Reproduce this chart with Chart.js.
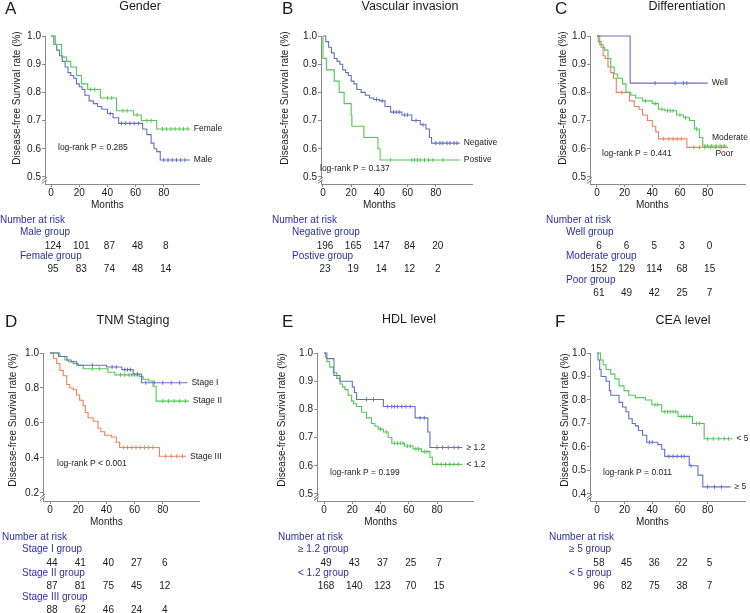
<!DOCTYPE html>
<html>
<head>
<meta charset="utf-8">
<script src="https://cdn.jsdelivr.net/npm/chart.js@4.4.1/dist/chart.umd.min.js"></script>
<style>
  body { margin: 0; background: #fff; width: 750px; height: 613px; position: relative; overflow: hidden; }
  canvas { position: absolute; }
</style>
</head>
<body>
<canvas id="cA" width="250" height="300" style="left:0;top:0"></canvas>
<canvas id="cB" width="250" height="300" style="left:250px;top:0"></canvas>
<canvas id="cC" width="250" height="300" style="left:500px;top:0"></canvas>
<canvas id="cD" width="250" height="313" style="left:0;top:300px"></canvas>
<canvas id="cE" width="250" height="313" style="left:250px;top:300px"></canvas>
<canvas id="cF" width="250" height="313" style="left:500px;top:300px"></canvas>
<script>
// ---- data (months, survival) ----
var riskTimes = [0, 20, 40, 60, 80];
var xTickValues = [0, 20, 40, 60, 80];
var yTicksHalf = [0.5, 0.6, 0.7, 0.8, 0.9, 1.0];
var yTicksStage = [0.2, 0.4, 0.6, 0.8, 1.0];
var yTicksCea = [0.4, 0.5, 0.6, 0.7, 0.8, 0.9, 1.0];

// A gender
var femaleT = [0, 3, 7.5, 11, 14, 18, 21.5, 26, 35, 46.5, 58.5, 64, 75, 98.5];
var femaleS = [1, 0.97, 0.925, 0.91, 0.89, 0.86, 0.83, 0.81, 0.78, 0.735, 0.72, 0.70, 0.67, 0.67];
var femaleCens = [28, 31, 40, 43, 51, 54, 61, 68, 71, 79, 82, 85, 88, 91, 94, 97];
var maleT = [0, 2, 4, 6, 8, 10, 12, 14, 16, 18, 20, 22, 24, 27, 30, 33, 36, 40, 44, 48, 65, 68, 71, 73, 75, 77.5, 98.5];
var maleS = [1, 0.97, 0.95, 0.93, 0.91, 0.89, 0.87, 0.86, 0.85, 0.83, 0.82, 0.81, 0.79, 0.77, 0.76, 0.75, 0.74, 0.725, 0.71, 0.69, 0.67, 0.65, 0.62, 0.60, 0.59, 0.56, 0.56];
var maleCens = [42, 50, 53, 56, 59, 62, 80, 83, 86, 89, 92, 95];
var maleRisk = [124, 101, 87, 48, 8];
var femaleRisk = [95, 83, 74, 48, 14];

// B vascular invasion
var negT = [0, 2, 4, 6, 8, 10, 12, 14, 16, 18, 20, 22, 24, 27, 30, 33, 36, 40, 44, 48, 56, 63, 69, 73, 75.5, 77, 97];
var negS = [1, 0.98, 0.96, 0.94, 0.92, 0.91, 0.90, 0.88, 0.87, 0.86, 0.84, 0.83, 0.81, 0.80, 0.79, 0.78, 0.775, 0.77, 0.75, 0.73, 0.72, 0.70, 0.685, 0.67, 0.64, 0.62, 0.62];
var negCens = [38, 42, 50, 52, 54, 58, 60, 66, 71, 80, 83, 85, 88, 90, 93, 95];
var posT = [0, 0, 2.5, 8, 11.5, 15, 20, 20.5, 29, 39, 40.5, 97];
var posS = [1, 0.92, 0.88, 0.84, 0.80, 0.76, 0.72, 0.68, 0.64, 0.60, 0.56, 0.56];
var posCens = [48, 63, 65, 67, 69, 72, 75, 78, 85];
var negRisk = [196, 165, 147, 84, 20];
var posRisk = [23, 19, 14, 12, 2];

// C differentiation
var wellT = [0, 24, 80];
var wellS = [1, 0.833, 0.833];
var wellCens = [42, 56.5, 62.5, 65];
var modT = [0, 1, 3, 5.5, 8, 10, 12.5, 15, 18.5, 21, 24.5, 28, 33, 40, 44.5, 49, 57.5, 62.5, 67, 70.5, 74, 76.5, 94];
var modS = [1, 0.98, 0.96, 0.95, 0.92, 0.89, 0.865, 0.85, 0.83, 0.80, 0.79, 0.78, 0.77, 0.76, 0.74, 0.735, 0.72, 0.71, 0.70, 0.67, 0.64, 0.61, 0.61];
var modCens = [35, 42, 47, 51, 53, 55, 60, 64, 72, 78, 80, 83, 86, 89, 92];
var poorT = [0, 2, 4.5, 6, 8, 10, 12, 14, 23.5, 27, 30.5, 33, 36.5, 40, 42.5, 44.5, 65, 95];
var poorS = [1, 0.97, 0.93, 0.92, 0.89, 0.87, 0.85, 0.80, 0.77, 0.75, 0.74, 0.72, 0.70, 0.68, 0.66, 0.635, 0.605, 0.605];
var poorCens = [18, 48, 52, 55, 58, 61, 70, 74, 78, 82, 86, 90];
var wellRisk = [6, 6, 5, 3, 0];
var modRisk = [152, 129, 114, 68, 15];
var poorRisk = [61, 49, 42, 25, 7];

// D TNM staging
var s1T = [0, 6, 12, 15, 19, 40, 51, 59, 65, 97.5];
var s1S = [1, 0.98, 0.96, 0.95, 0.93, 0.92, 0.905, 0.88, 0.83, 0.83];
var s1Cens = [30, 44, 47, 53, 55, 57, 62, 68, 74, 80, 86, 92];
var s2T = [0, 7, 10.5, 13, 16.5, 20, 23.5, 41, 46, 63.5, 66, 70, 73, 75.3, 98.5];
var s2S = [1, 0.98, 0.96, 0.95, 0.94, 0.93, 0.91, 0.89, 0.875, 0.865, 0.85, 0.84, 0.81, 0.725, 0.725];
var s2Cens = [30, 35, 50, 53, 56, 58, 60, 62, 80, 84, 88, 92, 96];
var s3T = [0, 2.4, 4.7, 7, 9.4, 11.8, 14, 16.5, 18.8, 21, 23.5, 25, 27, 30.6, 34, 36, 38.8, 43.5, 47, 49.4, 77.6, 96.5];
var s3S = [1, 0.97, 0.94, 0.90, 0.87, 0.82, 0.80, 0.79, 0.76, 0.73, 0.70, 0.66, 0.63, 0.61, 0.57, 0.55, 0.53, 0.52, 0.49, 0.46, 0.41, 0.41];
var s3Cens = [52, 55, 58, 61, 64, 67, 70, 73, 82, 86, 90, 94];
var s1Risk = [44, 41, 40, 27, 6];
var s2Risk = [87, 81, 75, 45, 12];
var s3Risk = [88, 62, 46, 24, 4];

// E HDL level
var hdlHiT = [0, 2, 7, 11.3, 20, 21.5, 23, 42, 64.5, 73.5, 75, 98];
var hdlHiS = [1, 0.98, 0.92, 0.90, 0.88, 0.86, 0.835, 0.81, 0.77, 0.72, 0.665, 0.665];
var hdlHiCens = [30, 35, 45, 48, 50, 52, 55, 58, 61, 68, 71, 80, 84, 88, 92, 95];
var hdlLoT = [0, 1, 2, 4, 6.6, 9, 11.3, 13, 14.8, 17, 19.5, 21, 23, 26.6, 30, 33.6, 36, 38.4, 42, 45.4, 48, 57, 63, 69, 75, 76.7, 98];
var hdlLoS = [1, 0.985, 0.97, 0.95, 0.93, 0.91, 0.89, 0.88, 0.87, 0.85, 0.83, 0.82, 0.81, 0.79, 0.77, 0.75, 0.74, 0.73, 0.72, 0.70, 0.68, 0.67, 0.66, 0.65, 0.63, 0.605, 0.605];
var hdlLoCens = [40, 44, 50, 52, 54, 56, 59, 61, 65, 67, 71, 73, 80, 83, 86, 89, 92, 95];
var hdlHiRisk = [49, 43, 37, 25, 7];
var hdlLoRisk = [168, 140, 123, 70, 15];

// F CEA level
var ceaLoT = [0, 2.6, 4.5, 6.6, 10, 13, 16, 19.6, 23, 27.8, 35, 39.7, 46.8, 58.6, 69, 77.5, 98];
var ceaLoS = [1, 0.97, 0.95, 0.93, 0.91, 0.89, 0.86, 0.84, 0.82, 0.81, 0.80, 0.78, 0.75, 0.73, 0.70, 0.635, 0.635];
var ceaLoCens = [42, 44, 49, 51, 53, 55, 57, 61, 63, 65, 67, 72, 74, 80, 84, 88, 92, 95];
var ceaHiT = [0, 0.8, 2, 3, 6.6, 9, 10, 16, 18.6, 21, 23, 25.5, 27.8, 30, 33, 36, 44, 46.8, 49, 66.7, 73, 76.5, 96.5];
var ceaHiS = [1, 0.97, 0.93, 0.90, 0.88, 0.84, 0.82, 0.79, 0.77, 0.75, 0.72, 0.70, 0.69, 0.67, 0.65, 0.62, 0.61, 0.59, 0.56, 0.52, 0.48, 0.43, 0.43];
var ceaHiCens = [38, 40, 52, 55, 58, 61, 63, 68, 80, 85, 90];
var ceaHiRisk = [58, 45, 36, 22, 5];
var ceaLoRisk = [96, 82, 75, 38, 7];

// ---- styling ----
var FONT = '"Liberation Sans", Arial, Helvetica, sans-serif';
var BLUE = '#6470c2';
var GREEN = '#55c655';
var ORANGE = '#f3805c';
var AXIS = '#8a8a8a';
var NAVY = '#30309a';
var TEXT = '#1a1a1a';
var X_AXIS_H = 20;

function levelAt(T, S, t) {
  var v = S[0];
  for (var i = 0; i < T.length; i++) { if (T[i] <= t) v = S[i]; }
  return v;
}

function curve(T, S, color, label, dx, dy) {
  return {
    data: T.map(function (t, i) { return { x: t, y: S[i] }; }),
    borderColor: color, borderWidth: 1.1, stepped: 'before',
    pointRadius: 0, fill: false, clip: 4,
    endLabel: label, labelDx: dx === undefined ? 4 : dx, labelDy: dy || 0
  };
}

function censored(times, T, S, color) {
  return {
    data: times.map(function (t) { return { x: t, y: levelAt(T, S, t) }; }),
    showLine: false, pointStyle: 'line', rotation: 90, pointRadius: 2,
    borderColor: color, borderWidth: 1, clip: 4
  };
}

var panelText = {
  id: 'panelText',
  afterDraw: function (chart, args, o) {
    var ctx = chart.ctx, xs = chart.scales.x, ys = chart.scales.y, a = chart.chartArea;
    ctx.save();
    ctx.textBaseline = 'middle';
    ctx.fillStyle = TEXT;

    ctx.font = '17px ' + FONT;
    ctx.textAlign = 'left';
    ctx.fillText(o.letter, o.letterAt[0], o.letterAt[1]);

    ctx.font = '12.5px ' + FONT;
    ctx.textAlign = 'center';
    ctx.fillText(o.title, o.titleAt[0], o.titleAt[1]);

    ctx.save();
    ctx.translate(o.yTitleAt[0], o.yTitleAt[1]);
    ctx.rotate(-Math.PI / 2);
    ctx.font = '10px ' + FONT;
    ctx.fillText('Disease-free Survival rate (%)', 0, 0);
    ctx.restore();

    ctx.font = '10px ' + FONT;
    ctx.fillText('Months', xs.getPixelForValue(40), a.bottom + 21);

    ctx.font = '8.5px ' + FONT;
    ctx.textAlign = 'left';
    ctx.fillText(o.pText, o.pAt[0], o.pAt[1]);

    chart.data.datasets.forEach(function (ds) {
      if (!ds.endLabel) return;
      var last = ds.data[ds.data.length - 1];
      ctx.fillText(ds.endLabel, xs.getPixelForValue(last.x) + ds.labelDx, ys.getPixelForValue(last.y) + ds.labelDy);
    });

    // axis break mark
    var by = a.bottom - 4;
    ctx.fillStyle = '#fff';
    ctx.fillRect(a.left - 1, by - 1, 3, 2);
    ctx.strokeStyle = '#555';
    ctx.lineWidth = 0.8;
    ctx.beginPath();
    ctx.moveTo(a.left - 3, by + 1); ctx.lineTo(a.left + 2, by - 3);
    ctx.moveTo(a.left - 3, by + 3.5); ctx.lineTo(a.left + 2, by - 0.5);
    ctx.stroke();

    // number at risk table
    ctx.font = '10px ' + FONT;
    ctx.fillStyle = NAVY;
    ctx.textAlign = 'left';
    ctx.fillText('Number at risk', o.riskX, a.bottom + 36.5);
    o.groups.forEach(function (g, gi) {
      ctx.fillStyle = NAVY;
      ctx.textAlign = 'left';
      ctx.fillText(g[0], o.riskX + 20, a.bottom + 48.5 + gi * 24);
      ctx.fillStyle = TEXT;
      ctx.textAlign = 'center';
      g[1].forEach(function (n, i) {
        ctx.fillText(String(n), xs.getPixelForValue(riskTimes[i]) + 2, a.bottom + 62 + gi * 23.5);
      });
    });
    ctx.restore();
  }
};

function makePanel(p) {
  var tickFont = { family: FONT, size: 10 };
  new Chart(document.getElementById(p.id), {
    type: 'line',
    data: { datasets: p.datasets },
    plugins: [panelText],
    options: {
      responsive: false,
      animation: false,
      events: [],
      layout: { padding: { left: 0, top: p.area.top, right: p.w - p.area.right, bottom: p.h - p.area.bottom - X_AXIS_H } },
      plugins: {
        legend: { display: false },
        tooltip: { enabled: false },
        panelText: p.text
      },
      scales: {
        x: {
          type: 'linear', min: p.xMin, max: p.xMax,
          afterBuildTicks: function (s) { s.ticks = xTickValues.map(function (v) { return { value: v }; }); },
          afterFit: function (s) { s.height = X_AXIS_H; },
          grid: { drawOnChartArea: false, tickLength: 3, color: AXIS },
          border: { color: AXIS, width: 1 },
          ticks: { font: tickFont, color: TEXT, padding: 0, maxRotation: 0, autoSkip: false }
        },
        y: {
          min: p.yMin, max: p.yMax,
          afterBuildTicks: function (s) { s.ticks = p.yTicks.map(function (v) { return { value: v }; }); },
          afterFit: function (s) { s.width = p.area.left; },
          grid: { drawOnChartArea: false, tickLength: 3, color: AXIS },
          border: { color: AXIS, width: 1 },
          ticks: { font: tickFont, color: TEXT, padding: 1, callback: function (v) { return v.toFixed(1); } }
        }
      }
    }
  });
}

makePanel({
  id: 'cA', w: 250, h: 300, area: { left: 45, top: 36, right: 199, bottom: 184 },
  xMin: -4.3, xMax: 105, yMin: 0.475, yMax: 1, yTicks: yTicksHalf,
  datasets: [
    curve(femaleT, femaleS, GREEN, 'Female'), censored(femaleCens, femaleT, femaleS, GREEN),
    curve(maleT, maleS, BLUE, 'Male'), censored(maleCens, maleT, maleS, BLUE)
  ],
  text: {
    letter: 'A', letterAt: [5, 9], title: 'Gender', titleAt: [140, 7], yTitleAt: [17, 98],
    pText: 'log-rank P = 0.285', pAt: [58, 148], riskX: 0,
    groups: [['Male group', maleRisk], ['Female group', femaleRisk]]
  }
});

makePanel({
  id: 'cB', w: 250, h: 300, area: { left: 71, top: 36, right: 222, bottom: 184 },
  xMin: -1.4, xMax: 105.7, yMin: 0.475, yMax: 1, yTicks: yTicksHalf,
  datasets: [
    curve(posT, posS, GREEN, 'Postive'), censored(posCens, posT, posS, GREEN),
    curve(negT, negS, BLUE, 'Negative'), censored(negCens, negT, negS, BLUE)
  ],
  text: {
    letter: 'B', letterAt: [32, 9], title: 'Vascular invasion', titleAt: [160, 7], yTitleAt: [35, 98],
    pText: 'log-rank P = 0.137', pAt: [70, 169], riskX: 22,
    groups: [['Negative group', negRisk], ['Postive group', posRisk]]
  }
});

makePanel({
  id: 'cC', w: 250, h: 300, area: { left: 90, top: 36, right: 248, bottom: 184 },
  xMin: -5, xMax: 107, yMin: 0.475, yMax: 1, yTicks: yTicksHalf,
  datasets: [
    curve(wellT, wellS, BLUE, 'Well'), censored(wellCens, wellT, wellS, BLUE),
    curve(modT, modS, GREEN, 'Moderate', -15, -8), censored(modCens, modT, modS, GREEN),
    curve(poorT, poorS, ORANGE, 'Poor', -13, 6), censored(poorCens, poorT, poorS, ORANGE)
  ],
  text: {
    letter: 'C', letterAt: [55, 9], title: 'Differentiation', titleAt: [187, 7], yTitleAt: [63, 98],
    pText: 'log-rank P = 0.441', pAt: [102, 154], riskX: 46,
    groups: [['Well group', wellRisk], ['Moderate group', modRisk], ['Poor group', poorRisk]]
  }
});

makePanel({
  id: 'cD', w: 250, h: 313, area: { left: 43, top: 53, right: 199, bottom: 201 },
  xMin: -5, xMax: 105.7, yMin: 0.154, yMax: 1, yTicks: yTicksStage,
  datasets: [
    curve(s1T, s1S, BLUE, 'Stage I'), censored(s1Cens, s1T, s1S, BLUE),
    curve(s2T, s2S, GREEN, 'Stage II'), censored(s2Cens, s2T, s2S, GREEN),
    curve(s3T, s3S, ORANGE, 'Stage III'), censored(s3Cens, s3T, s3S, ORANGE)
  ],
  text: {
    letter: 'D', letterAt: [5, 22], title: 'TNM Staging', titleAt: [133, 21], yTitleAt: [13, 120],
    pText: 'log-rank P < 0.001', pAt: [57, 164], riskX: 2,
    groups: [['Stage I group', s1Risk], ['Stage II group', s2Risk], ['Stage III group', s3Risk]]
  }
});

makePanel({
  id: 'cE', w: 250, h: 313, area: { left: 67, top: 53, right: 223, bottom: 201 },
  xMin: -5, xMax: 105.5, yMin: 0.475, yMax: 1, yTicks: yTicksHalf,
  datasets: [
    curve(hdlHiT, hdlHiS, BLUE, '\u2265 1.2'), censored(hdlHiCens, hdlHiT, hdlHiS, BLUE),
    curve(hdlLoT, hdlLoS, GREEN, '< 1.2'), censored(hdlLoCens, hdlLoT, hdlLoS, GREEN)
  ],
  text: {
    letter: 'E', letterAt: [32, 22], title: 'HDL level', titleAt: [159, 20], yTitleAt: [32, 120],
    pText: 'log-rank P = 0.199', pAt: [80, 173], riskX: 28,
    groups: [['\u2265 1.2 group', hdlHiRisk], ['< 1.2 group', hdlLoRisk]]
  }
});

makePanel({
  id: 'cF', w: 250, h: 313, area: { left: 90, top: 53, right: 248, bottom: 201 },
  xMin: -5, xMax: 107, yMin: 0.37, yMax: 1, yTicks: yTicksCea,
  datasets: [
    curve(ceaLoT, ceaLoS, GREEN, '< 5'), censored(ceaLoCens, ceaLoT, ceaLoS, GREEN),
    curve(ceaHiT, ceaHiS, BLUE, '\u2265 5'), censored(ceaHiCens, ceaHiT, ceaHiS, BLUE)
  ],
  text: {
    letter: 'F', letterAt: [55, 22], title: 'CEA level', titleAt: [183, 21], yTitleAt: [65, 120],
    pText: 'log-rank P = 0.011', pAt: [103, 173], riskX: 49,
    groups: [['\u2265 5 group', ceaHiRisk], ['< 5 group', ceaLoRisk]]
  }
});
</script>
</body>
</html>
